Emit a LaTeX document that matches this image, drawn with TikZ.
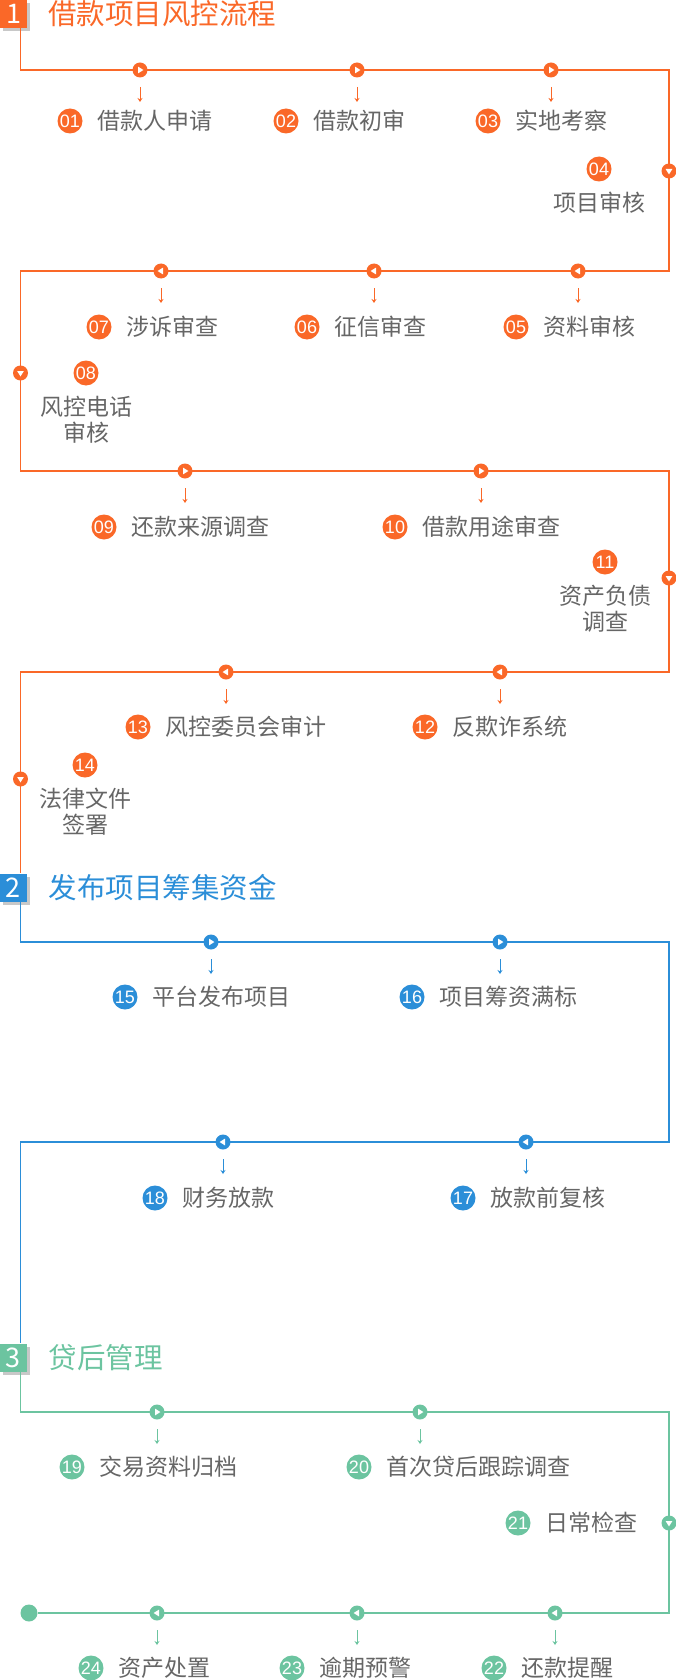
\documentclass[tikz,border=0pt]{standalone}
\usepackage{fontspec}
\setmainfont{Noto Sans CJK SC}
\newfontfamily\numfont{Liberation Sans}
\usetikzlibrary{arrows.meta,calc,positioning,shadows}
\definecolor{lcorange}{HTML}{FA6828}
\definecolor{lcblue}{HTML}{2B8ED8}
\definecolor{lcgreen}{HTML}{6CC4A0}
\definecolor{lctext}{HTML}{666666}
\definecolor{lcshadow}{HTML}{C8C8C8}
\tikzset{
  every picture/.style={font=\fontsize{23}{26}\selectfont,text=lctext},
  flow/.style={line width=1.2pt},
  marker/.style={circle,minimum size=15pt,inner sep=0pt},
  rmark/.style={marker,path picture={\fill[white]
    ([xshift=-2pt,yshift=3.4pt]path picture bounding box.center)
    -- ++(5.4pt,-3.4pt) -- ++(-5.4pt,-3.4pt) -- cycle;}},
  lmark/.style={marker,path picture={\fill[white]
    ([xshift=2pt,yshift=3.4pt]path picture bounding box.center)
    -- ++(-5.4pt,-3.4pt) -- ++(5.4pt,-3.4pt) -- cycle;}},
  dmark/.style={marker,path picture={\fill[white]
    ([xshift=-3.4pt,yshift=2pt]path picture bounding box.center)
    -- ++(6.8pt,0pt) -- ++(-3.4pt,-5.4pt) -- cycle;}},
  stub/.style={line width=0.9pt,-{Stealth[length=4pt,width=5pt]}},
  num/.style={circle,minimum size=25pt,inner sep=0pt,text=white,
    font=\numfont\fontsize{18}{18}\selectfont},
  itemtext/.style={inner sep=0pt},
  blocktext/.style={inner sep=0pt,align=center},
  secbox/.style={minimum width=27pt,minimum height=28pt,inner sep=0pt,
    text=white,font=\fontsize{27}{27}\selectfont,
    drop shadow={shadow xshift=3pt,shadow yshift=-3pt,fill=lcshadow,opacity=1}},
  sectitle/.style={inner sep=0pt,font=\fontsize{28.5}{28.5}\selectfont},
}
\begin{document}
\begin{tikzpicture}[x=1pt,y=-1pt]
  \path[use as bounding box] (0,0) rectangle (676,1680);
  % section 1
  \node[secbox,fill=lcorange] (b1) at (13.5,14) {1};
  \node[sectitle,text=lcorange,right=21pt of b1] (h1) {借款项目风控流程};
  \node[secbox,fill=lcblue] (b2) at (13,887.5) {2};
  \node[sectitle,text=lcblue,right=22pt of b2] (h2) {发布项目筹集资金};
  \node[secbox,fill=lcgreen] (b3) at (13,1357.5) {3};
  \node[sectitle,text=lcgreen,right=22pt of b3] (h3) {贷后管理};
  \foreach \n/\y in {1/70,2/271,3/471,4/672} {
    \coordinate (ol\n) at (20.5,\y);
    \coordinate (or\n) at (669,\y);
  }
  \draw[flow,draw=lcorange] (b1.south -| ol1) -- (ol1) -- (or1) -- (or2) -- (ol2)
    -- (ol3) -- (or3) -- (or4) -- (ol4) -- (ol4 |- b2.north);
  \foreach \i/\x/\y/\s in {01/140/70/rmark,02/357/70/rmark,03/551/70/rmark,
      07/161/271/lmark,06/374/271/lmark,05/578/271/lmark,
      09/185/471/rmark,10/481/471/rmark,13/226/672/lmark,12/500/672/lmark} {
    \node[\s,fill=lcorange] (k\i) at (\x,\y) {};
    \draw[stub,draw=lcorange] ([yshift=-17pt]k\i.center) -- ++(0,15);
  }
  \foreach \i/\y in {04/171,11/578} \node[dmark,fill=lcorange] (k\i) at (669,\y) {};
  \foreach \i/\y in {08/373,14/779} \node[dmark,fill=lcorange] (k\i) at (20.5,\y) {};
  \foreach \i/\x/\y/\t in {01/70/121/借款人申请,02/286/121/借款初审,03/488/121/实地考察,
      07/99/327/涉诉审查,06/307/327/征信审查,05/516/327/资料审核,
      09/104/527/还款来源调查,10/395/527/借款用途审查,
      13/138/727/风控委员会审计,12/425/727/反欺诈系统} {
    \node[num,fill=lcorange] (n\i) at (\x,\y) {\i};
    \node[itemtext,right=15pt of n\i] (t\i) {\t};
  }
  \foreach \i/\x/\y/\t in {04/599/169/项目审核,08/86/373/风控电话\\审核,
      11/605/562/资产负债\\调查,14/85/765/法律文件\\签署} {
    \node[num,fill=lcorange] (n\i) at (\x,\y) {\i};
    \node[blocktext,below=10pt of n\i] (t\i) {\t};
  }
  % section 2
  \coordinate (bl1) at (20.5,942);
  \coordinate (br1) at (669,942);
  \coordinate (br2) at (669,1142);
  \coordinate (bl2) at (20.5,1142);
  \draw[flow,draw=lcblue] (b2.south -| bl1) -- (bl1) -- (br1) -- (br2) -- (bl2)
    -- (bl2 |- b3.north);
  \foreach \i/\x/\y/\s in {15/211/942/rmark,16/500/942/rmark,
      18/223/1142/lmark,17/526/1142/lmark} {
    \node[\s,fill=lcblue] (k\i) at (\x,\y) {};
    \draw[stub,draw=lcblue] ([yshift=-17pt]k\i.center) -- ++(0,15);
  }
  \foreach \i/\x/\y/\t in {15/125/997/平台发布项目,16/412/997/项目筹资满标,
      18/155/1198/财务放款,17/463/1198/放款前复核} {
    \node[num,fill=lcblue] (n\i) at (\x,\y) {\i};
    \node[itemtext,right=15pt of n\i] (t\i) {\t};
  }
  % section 3
  \coordinate (gl1) at (20.5,1412);
  \coordinate (gr1) at (669,1412);
  \coordinate (gr2) at (669,1613);
  \node[circle,fill=lcgreen,minimum size=17pt,inner sep=0pt] (end) at (29,1613) {};
  \draw[flow,draw=lcgreen] (b3.south -| gl1) -- (gl1) -- (gr1) -- (gr2) -- (end);
  \foreach \i/\x/\y/\s in {19/157/1412/rmark,20/420/1412/rmark,
      24/157/1613/lmark,23/357/1613/lmark,22/555/1613/lmark} {
    \node[\s,fill=lcgreen] (k\i) at (\x,\y) {};
    \draw[stub,draw=lcgreen] ([yshift=-17pt]k\i.center) -- ++(0,15);
  }
  \node[dmark,fill=lcgreen] (k21) at (669,1523) {};
  \foreach \i/\x/\y/\t in {19/72/1467/交易资料归档,20/359/1467/首次贷后跟踪调查,
      21/518/1523/日常检查,24/91/1668/资产处置,23/292/1668/逾期预警,
      22/494/1668/还款提醒} {
    \node[num,fill=lcgreen] (n\i) at (\x,\y) {\i};
    \node[itemtext,right=15pt of n\i] (t\i) {\t};
  }
\end{tikzpicture}
\end{document}
